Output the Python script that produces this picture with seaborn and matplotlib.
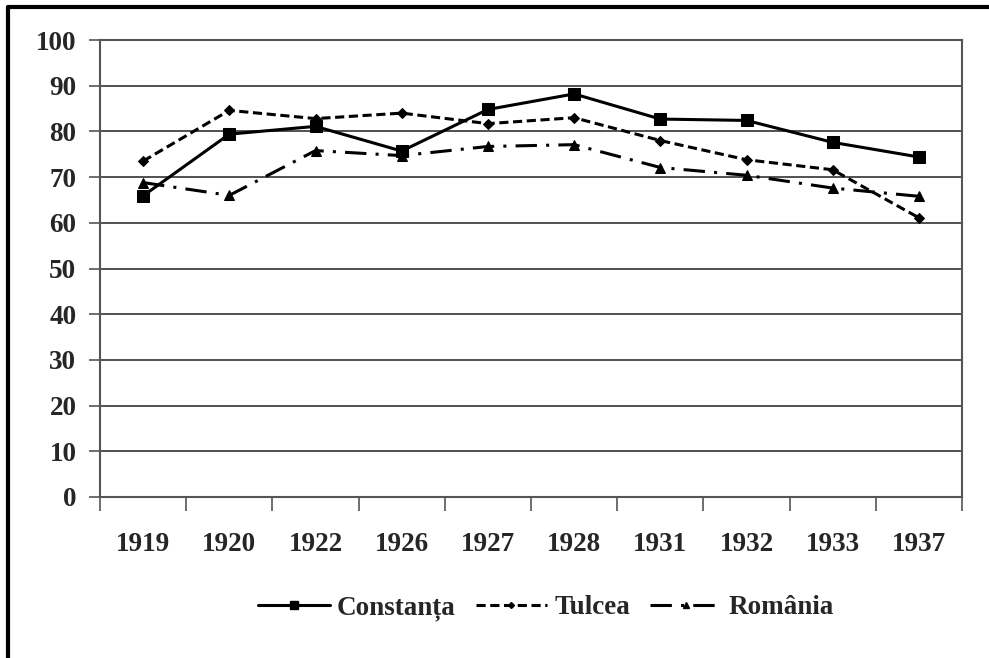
import matplotlib
matplotlib.use("Agg")
import matplotlib.pyplot as plt
import seaborn as sns
import pandas as pd
from matplotlib.lines import Line2D

# date
years = ['1919', '1920', '1922', '1926', '1927', '1928', '1931', '1932', '1933', '1937']
constanta = [65.9, 79.4, 81.1, 75.7, 84.8, 88.2, 82.7, 82.4, 77.6, 74.4]
tulcea = [73.5, 84.6, 82.8, 84.0, 81.7, 83.0, 78.0, 73.8, 71.6, 61.1]
romania = [68.8, 66.0, 75.8, 74.7, 76.7, 77.1, 72.1, 70.4, 67.6, 65.8]

sns.set_style('white')
plt.rcParams['font.family'] = ['Liberation Serif', 'DejaVu Serif']
plt.rcParams['font.weight'] = 'bold'

fig = plt.figure(figsize=(9.89, 6.58), dpi=100)
ax = fig.add_axes([100 / 989, 1 - 497 / 658, 862 / 989, 457 / 658])

pos = list(range(len(years)))
series = [
    ('Constanța', constanta, 's', 8, '-', None),
    ('Tulcea', tulcea, 'D', 5, '--', (3, 1.5)),
    ('România', romania, '^', 7, '-.', (7, 3, 1, 3)),
]
handles = []
for name, vals, mk, ms, ls, dash in series:
    df = pd.DataFrame({'x': pos, 'y': vals})
    sns.lineplot(data=df, x='x', y='y', ax=ax, color='black', linewidth=2.2,
                 marker=mk, markersize=ms, markeredgecolor='black', linestyle=ls)
    line = ax.lines[-1]
    if dash:
        line.set_dashes(dash)
    h = Line2D([], [], color='black', linewidth=2.2, marker=mk, markersize=ms - 2,
               linestyle=ls)
    if dash:
        h.set_dashes(dash)
    handles.append(h)

ax.set_xlim(-0.5, len(years) - 0.5)
ax.set_ylim(0, 100)
ax.set_yticks(range(0, 101, 10))
ax.yaxis.grid(True, color='#333333', linewidth=1.2)
ax.set_axisbelow(True)

# x ticks at category boundaries, labels at centers
ax.set_xticks([p - 0.5 for p in pos] + [len(years) - 0.5])
ax.set_xticklabels([])
ax.set_xticks(pos, minor=True)
ax.set_xticklabels(years, minor=True)
ax.tick_params(axis='x', which='major', length=10, width=1.2, color='#555555', direction='out')
ax.tick_params(axis='x', which='minor', length=0, pad=25, labelsize=19.5)
ax.tick_params(axis='y', length=8, width=1.2, color='#555555', direction='out', labelsize=19.5, pad=9)
ax.tick_params(bottom=True, left=True)

for s in ax.spines.values():
    s.set_color('#555555')
    s.set_linewidth(1.5)
ax.set_xlabel('')
ax.set_ylabel('')

fig.legend(handles, ['Constanța', 'Tulcea', 'România'], loc='center',
           bbox_to_anchor=(0.552, 1 - 608 / 658), ncol=3, frameon=False,
           fontsize=19.5, handlelength=2.65, columnspacing=0.75, handletextpad=0.25)

# outer frame (left and top edges)
fig.add_artist(Line2D([8 / 989, 8 / 989], [0, 1 - 7 / 658], transform=fig.transFigure,
                      color='black', linewidth=3))
fig.add_artist(Line2D([8 / 989, 1], [1 - 7 / 658, 1 - 7 / 658], transform=fig.transFigure,
                      color='black', linewidth=3))

fig.savefig('out.png', dpi=100)
